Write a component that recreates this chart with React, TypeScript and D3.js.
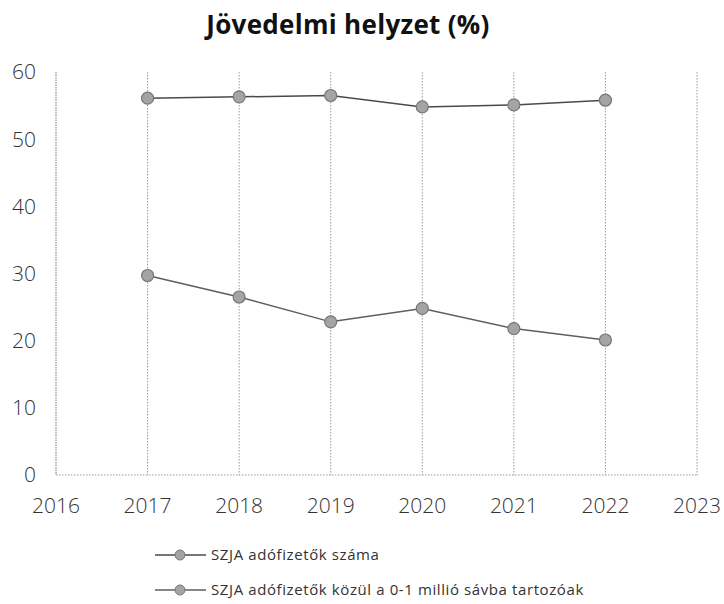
import React, { useEffect, useRef } from "react";
import * as d3 from "d3";

const years = [2017, 2018, 2019, 2020, 2021, 2022];
const xTicks = [2016, 2017, 2018, 2019, 2020, 2021, 2022, 2023];
const yTicks = [0, 10, 20, 30, 40, 50, 60];
const seriesNames = [
  "SZJA adófizetők száma",
  "SZJA adófizetők közül a 0-1 millió sávba tartozóak",
];
const taxpayers = [56.1, 56.3, 56.5, 54.8, 55.1, 55.8];
const lowBand = [29.7, 26.5, 22.8, 24.8, 21.8, 20.1];
const title = "Jövedelmi helyzet (%)";

const W = 724;
const H = 604;

export default function App() {
  const ref = useRef<SVGSVGElement | null>(null);

  useEffect(() => {
    const svg = d3.select(ref.current);
    svg.selectAll("*").remove();

    const x = d3.scaleLinear().domain([2016, 2023]).range([56, 697]);
    const y = d3.scaleLinear().domain([0, 60]).range([475, 72]);
    const font = "'Open Sans', 'Noto Sans', sans-serif";

    svg.append("rect").attr("width", W).attr("height", H).attr("fill", "#fff");

    svg
      .append("text")
      .attr("x", 348)
      .attr("y", 34)
      .attr("text-anchor", "middle")
      .attr("font-family", font)
      .attr("font-weight", 700)
      .attr("font-size", 26)
      .attr("letter-spacing", 0.3)
      .attr("fill", "#111")
      .text(title);

    // vertical gridlines
    svg
      .append("g")
      .selectAll("line")
      .data(xTicks.slice(1))
      .join("line")
      .attr("x1", (d) => x(d))
      .attr("x2", (d) => x(d))
      .attr("y1", y(60))
      .attr("y2", y(0))
      .attr("stroke", "#999")
      .attr("stroke-width", 1)
      .attr("stroke-dasharray", "1.5,1.5");

    // y axis line
    svg
      .append("line")
      .attr("x1", x(2016))
      .attr("x2", x(2016))
      .attr("y1", y(60))
      .attr("y2", y(0))
      .attr("stroke", "#777")
      .attr("stroke-dasharray", "1.5,1");
    // x axis line
    svg
      .append("line")
      .attr("x1", x(2016))
      .attr("x2", x(2023))
      .attr("y1", y(0))
      .attr("y2", y(0))
      .attr("stroke", "#999")
      .attr("stroke-dasharray", "1.5,1.5");

    // y labels
    svg
      .append("g")
      .selectAll("text")
      .data(yTicks)
      .join("text")
      .attr("x", 36)
      .attr("y", (d) => y(d))
      .attr("dy", "0.35em")
      .attr("text-anchor", "end")
      .attr("font-family", font)
      .attr("font-weight", 300)
      .attr("font-size", 21)
      .attr("fill", "#333")
      .text((d) => String(d));

    // x labels
    svg
      .append("g")
      .selectAll("text")
      .data(xTicks)
      .join("text")
      .attr("x", (d) => x(d))
      .attr("y", 506)
      .attr("dy", "0.35em")
      .attr("text-anchor", "middle")
      .attr("font-family", font)
      .attr("font-weight", 300)
      .attr("font-size", 21)
      .attr("fill", "#333")
      .text((d) => String(d));

    const series = [
      { name: seriesNames[0], values: taxpayers, line: "#4a4a4a", ly: 555 },
      { name: seriesNames[1], values: lowBand, line: "#5e5e5e", ly: 590 },
    ];

    const lineGen = d3
      .line<number>()
      .x((_, i) => x(years[i]))
      .y((d) => y(d));

    series.forEach((s) => {
      svg
        .append("path")
        .attr("d", lineGen(s.values) as string)
        .attr("fill", "none")
        .attr("stroke", s.line)
        .attr("stroke-width", 1.5);
      svg
        .append("g")
        .selectAll("circle")
        .data(s.values)
        .join("circle")
        .attr("cx", (_, i) => x(years[i]))
        .attr("cy", (d) => y(d))
        .attr("r", 6)
        .attr("fill", "#a4a4a4")
        .attr("stroke", "#777")
        .attr("stroke-width", 1.2);

      // legend
      svg
        .append("line")
        .attr("x1", 155)
        .attr("x2", 206)
        .attr("y1", s.ly)
        .attr("y2", s.ly)
        .attr("stroke", s.line)
        .attr("stroke-width", 1.4);
      svg
        .append("circle")
        .attr("cx", 180)
        .attr("cy", s.ly)
        .attr("r", 5)
        .attr("fill", "#a4a4a4")
        .attr("stroke", "#777")
        .attr("stroke-width", 1);
      svg
        .append("text")
        .attr("x", 211)
        .attr("y", s.ly)
        .attr("dy", "0.35em")
        .attr("font-family", font)
        .attr("font-size", 15)
        .attr("letter-spacing", 0.6)
        .attr("fill", "#333")
        .text(s.name);
    });
  }, []);

  return (
    <svg
      ref={ref}
      width={W}
      height={H}
      style={{ position: "absolute", left: 0, top: 0, display: "block" }}
    />
  );
}
